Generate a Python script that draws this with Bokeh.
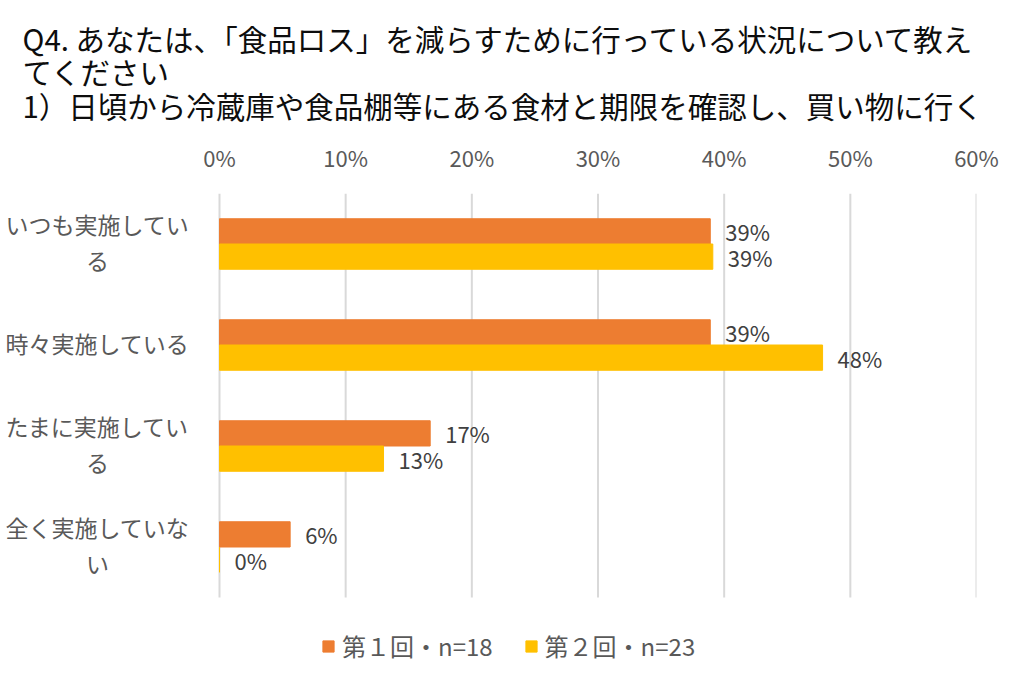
from bokeh.plotting import figure
from bokeh.models import (Range1d, FixedTicker, NumeralTickFormatter,
                          Legend, LegendItem, ColumnDataSource)
from bokeh.core.properties import value
from bokeh.embed import file_html
from bokeh.resources import INLINE

# ---- data ----
title_lines = [
    "Q4. あなたは、「食品ロス」を減らすために行っている状況について教え",
    "てください",
    "1）日頃から冷蔵庫や食品棚等にある食材と期限を確認し、買い物に行く",
]
categories = ["いつも実施している", "時々実施している", "たまに実施している", "全く実施していない"]
category_labels = ["いつも実施してい\nる", "時々実施している", "たまに実施してい\nる", "全く実施していな\nい"]
series_names = ["第１回・n=18", "第２回・n=23"]
round1 = [0.389, 0.389, 0.167, 0.056]   # n=18
round2 = [0.391, 0.478, 0.130, 0.0]     # n=23
tick_values = [0.0, 0.1, 0.2, 0.3, 0.4, 0.5, 0.6]

# ---- geometry / style ----
FONT = "Noto Sans CJK JP"
COLORS = ["#ED7D31", "#FFC000"]
W, H = 1015, 686
FRAME_W = 976            # frame spans the label column and the bar area
FRAME_TOP = 193
ZERO_PX = 219            # pixel position of 0% inside the frame
ROW_PX = 101             # height of one category row
X_MAX = tick_values[-1]
X_MIN = -ZERO_PX * X_MAX / (FRAME_W - ZERO_PX)
Y_TOP = -0.5
Y_BOTTOM = Y_TOP + (H - FRAME_TOP) / ROW_PX
BAR_H = 0.25

idx = list(range(len(categories)))
src = ColumnDataSource(dict(
    pos=idx,
    label=category_labels,
    y1=[i - BAR_H / 2 for i in idx],
    y2=[i + BAR_H / 2 for i in idx],
    r1=round1,
    r2=round2,
    t1=[f"{v:.0%}" for v in round1],
    t2=[f"{v:.0%}" for v in round2],
))

p = figure(width=W, height=H, output_backend="svg", toolbar_location=None,
           x_range=Range1d(X_MIN, X_MAX),
           y_range=Range1d(Y_BOTTOM, Y_TOP),
           x_axis_location="above", y_axis_location=None,
           min_border_left=0, min_border_right=W - FRAME_W,
           min_border_top=FRAME_TOP, min_border_bottom=0)

p.outline_line_color = None
p.xgrid.visible = False
p.ygrid.visible = False

ax = p.xaxis[0]
ax.ticker = FixedTicker(ticks=tick_values)
ax.formatter = NumeralTickFormatter(format="0%")
ax.axis_line_color = None
ax.major_tick_line_color = None
ax.minor_tick_line_color = None
ax.major_label_text_font = FONT
ax.major_label_text_font_size = "22px"
ax.major_label_text_color = "#595959"
ax.major_label_standoff = 15

# vertical gridlines, limited to the category rows
p.segment(x0=tick_values, x1=tick_values, y0=Y_TOP, y1=len(categories) - 0.5,
          line_color="#D9D9D9", line_width=2)

# title
p.title.text = "\n".join(title_lines)
p.title.text_font = FONT
p.title.text_font_size = "29.5px"
p.title.text_font_style = "normal"
p.title.text_color = "#0D0D0D"
p.title.text_line_height = 0.8
p.title.align = "left"
p.title.offset = 22
p.title.standoff = 23

# bars
b1 = p.hbar(y="y1", left=0, right="r1", height=BAR_H, source=src,
            fill_color=COLORS[0], line_color=COLORS[0])
b2 = p.hbar(y="y2", left=0, right="r2", height=BAR_H, source=src,
            fill_color=COLORS[1], line_color=COLORS[1])

# value labels
for xcol, ycol, tcol in (("r1", "y1", "t1"), ("r2", "y2", "t2")):
    p.text(x=xcol, y=ycol, text=tcol, source=src,
           x_offset=15, text_align="left", text_baseline="middle",
           text_font=value(FONT), text_font_size=value("22px"), text_color="#404040")

# category labels in the left column
p.text(x=0, y="pos", text="label", source=src, x_offset=97 - ZERO_PX, y_offset=-2,
       text_align="center", text_baseline="middle", text_line_height=1.05,
       text_font=value(FONT), text_font_size=value("23px"), text_color="#595959")

legend = Legend(items=[LegendItem(label=series_names[0], renderers=[b1]),
                       LegendItem(label=series_names[1], renderers=[b2])],
                orientation="horizontal", location=(321, 23))
legend.border_line_color = None
legend.background_fill_alpha = 0
legend.margin = 0
legend.padding = 0
legend.label_text_font = FONT
legend.label_text_font_size = "24px"
legend.label_text_color = "#595959"
legend.glyph_width = 14
legend.glyph_height = 14
legend.spacing = 31
legend.label_standoff = 7
p.add_layout(legend)

open("out.html", "w").write(file_html(p, INLINE))
